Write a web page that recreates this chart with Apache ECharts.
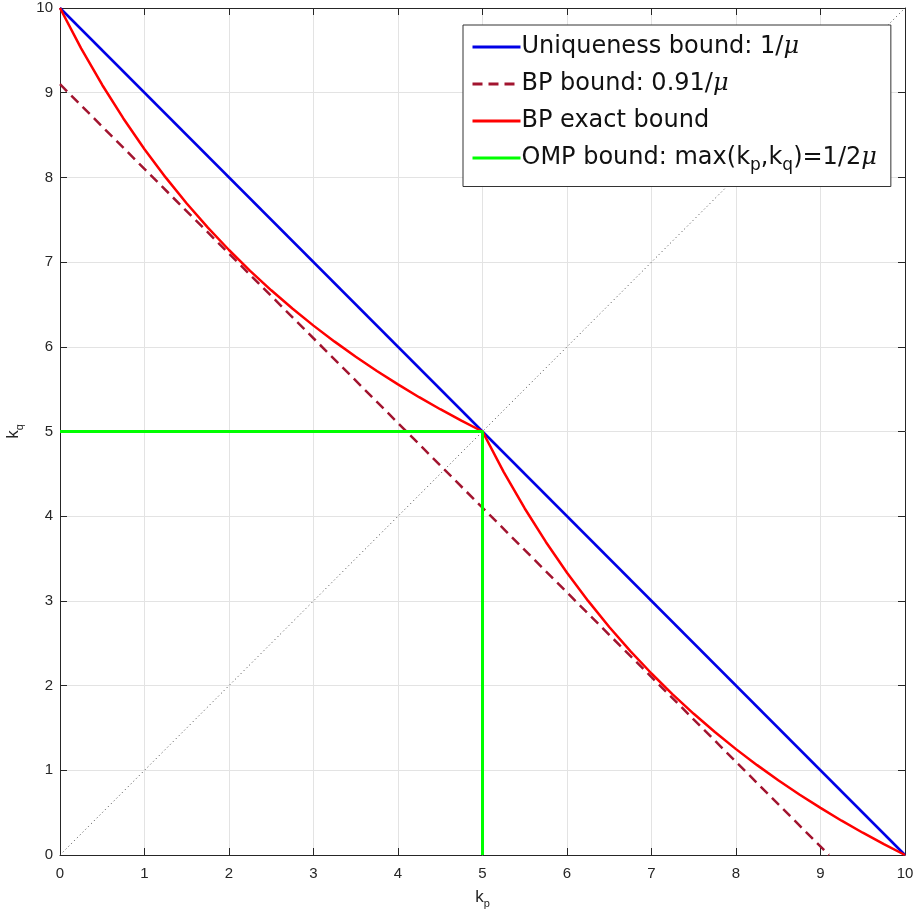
<!DOCTYPE html>
<html>
<head>
<meta charset="utf-8">
<script src="https://cdn.jsdelivr.net/npm/echarts@6/dist/echarts.min.js"></script>
<style>
  html, body { margin: 0; padding: 0; background: #fff; }
  #chart { width: 915px; height: 912px; }
</style>
</head>
<body>
<div id="chart"></div>
<script>
// axis ticks
var tickValues = [0, 1, 2, 3, 4, 5, 6, 7, 8, 9, 10];

// uniqueness bound 1/mu
var uniqX = [0, 10];
var uniqY = [10, 0];

// BP bound 0.91/mu
var bpX = [0, 9.1];
var bpY = [9.1, 0];

// BP exact bound
var exactX = [0, 0.25, 0.5, 0.75, 1, 1.25, 1.5, 1.75, 2, 2.25, 2.5, 2.75, 3, 3.25, 3.5, 3.75, 4, 4.25, 4.5, 4.75, 5,
              5.25, 5.5, 5.75, 6, 6.25, 6.5, 6.75, 7, 7.25, 7.5, 7.75, 8, 8.25, 8.5, 8.75, 9, 9.25, 9.5, 9.75, 10];
var exactY = [10, 9.524, 9.091, 8.696, 8.333, 8.0, 7.692, 7.407, 7.143, 6.897, 6.667, 6.452, 6.25, 6.061, 5.882, 5.714, 5.556, 5.405, 5.263, 5.128, 5,
              4.524, 4.091, 3.696, 3.333, 3.0, 2.692, 2.407, 2.143, 1.897, 1.667, 1.452, 1.25, 1.061, 0.882, 0.714, 0.556, 0.405, 0.263, 0.128, 0];

// OMP bound max(kp,kq) = 1/2mu
var ompX = [0, 5, 5];
var ompY = [5, 5, 0];

// diagonal kp = kq
var diagX = [0, 10];
var diagY = [0, 10];

function pairs(xs, ys) {
    return xs.map(function (x, i) { return [x, ys[i]]; });
}

var axisColor = "#262626";
var labelFont = "'Liberation Sans', Arial, sans-serif";
var legendFont = "'DejaVu Sans', sans-serif";

var legendText = {
    "Uniqueness bound": "Uniqueness bound: 1/{mu|μ}",
    "BP bound": "BP bound: 0.91/{mu|μ}",
    "BP exact bound": "BP exact bound",
    "OMP bound": "OMP bound: max(k{sub|p},k{sub|q})=1/2{mu|μ}"
};

function baseAxis(extra) {
    var a = {
        type: "value",
        min: 0,
        max: 10,
        interval: 1,
        axisLine: { show: true, onZero: false, lineStyle: { color: axisColor, width: 1 } },
        axisTick: { show: true, inside: true, length: 7, lineStyle: { color: axisColor } },
        splitLine: { show: false },
        axisLabel: { show: false }
    };
    for (var k in extra) a[k] = extra[k];
    return a;
}

var chart = echarts.init(document.getElementById("chart"));
chart.setOption({
    backgroundColor: "#fff",
    animation: false,
    grid: { left: 60, right: 10, top: 8, bottom: 57, containLabel: false, outerBoundsMode: "none" },
    xAxis: [
        baseAxis({
            position: "bottom",
            splitLine: { show: true, lineStyle: { color: "#e3e3e3", width: 1 } },
            axisLabel: { show: true, color: axisColor, fontSize: 15, fontFamily: labelFont, margin: 11 },
            name: "k{sub|p}",
            nameLocation: "middle",
            nameGap: 31,
            nameTextStyle: {
                color: axisColor, fontSize: 17, fontFamily: labelFont,
                rich: { sub: { fontSize: 11, color: axisColor, fontFamily: labelFont, padding: [12, 0, 0, 0] } }
            }
        }),
        baseAxis({ position: "top" })
    ],
    yAxis: [
        baseAxis({
            position: "left",
            splitLine: { show: true, lineStyle: { color: "#e3e3e3", width: 1 } },
            axisLabel: { show: true, color: axisColor, fontSize: 15, fontFamily: labelFont, margin: 7 },
            name: "k{sub|q}",
            nameLocation: "middle",
            nameGap: 35,
            nameRotate: 90,
            nameTextStyle: {
                color: axisColor, fontSize: 17, fontFamily: labelFont,
                rich: { sub: { fontSize: 11, color: axisColor, fontFamily: labelFont, padding: [12, 0, 0, 0] } }
            }
        }),
        baseAxis({ position: "right" })
    ],
    legend: {
        orient: "vertical",
        left: 463,
        top: 25,
        padding: [10, 14, 12, 8],
        itemGap: 13,
        itemWidth: 48,
        itemHeight: 14,
        backgroundColor: "#fff",
        borderColor: "#333",
        borderWidth: 1,
        borderRadius: 0,
        itemStyle: { opacity: 0 },
        lineStyle: { width: 3 },
        data: ["Uniqueness bound", "BP bound", "BP exact bound", "OMP bound"],
        formatter: function (name) { return legendText[name]; },
        textStyle: {
            color: "#111",
            fontSize: 24,
            fontFamily: legendFont,
            padding: [0, 0, 0, -4],
            rich: {
                mu: { fontSize: 24, fontStyle: "italic", fontFamily: "'DejaVu Serif', serif", color: "#111" },
                sub: { fontSize: 17, color: "#111", fontFamily: legendFont, padding: [16, 0, 0, 0] }
            }
        }
    },
    series: [
        {
            type: "line", name: "diagonal", data: pairs(diagX, diagY),
            showSymbol: false, symbol: "none", silent: true,
            lineStyle: { color: "#444", width: 1, type: [1, 3] }
        },
        {
            type: "line", name: "Uniqueness bound", data: pairs(uniqX, uniqY),
            showSymbol: false, symbol: "none",
            lineStyle: { color: "#0000e6", width: 2.5 }, itemStyle: { color: "#0000e6" }
        },
        {
            type: "line", name: "BP bound", data: pairs(bpX, bpY),
            showSymbol: false, symbol: "none",
            lineStyle: { color: "#a2142f", width: 2.5, type: [10, 6] }, itemStyle: { color: "#a2142f" }
        },
        {
            type: "line", name: "BP exact bound", data: pairs(exactX, exactY),
            showSymbol: false, symbol: "none",
            lineStyle: { color: "#ff0000", width: 2.5 }, itemStyle: { color: "#ff0000" }
        },
        {
            type: "line", name: "OMP bound", data: pairs(ompX, ompY),
            showSymbol: false, symbol: "none",
            lineStyle: { color: "#00ff00", width: 3 }, itemStyle: { color: "#00ff00" }
        }
    ]
});
</script>
</body>
</html>
